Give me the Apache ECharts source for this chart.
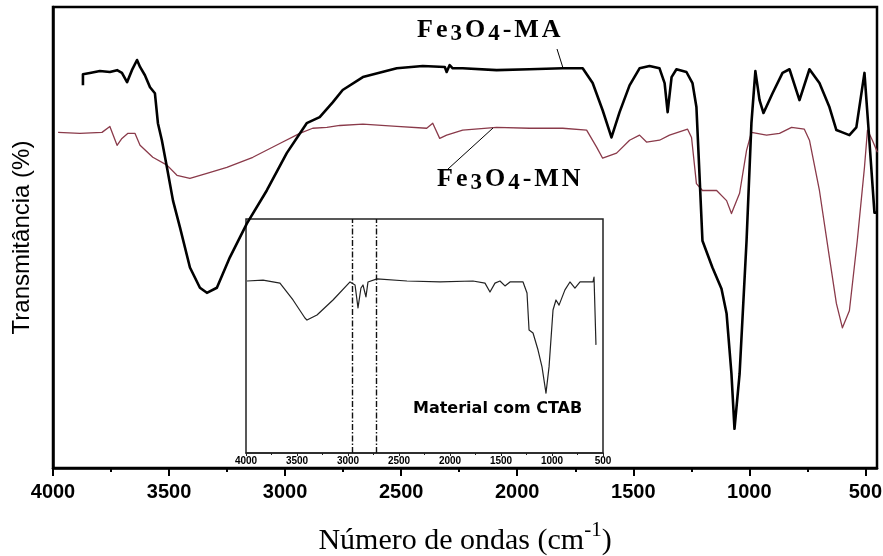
<!DOCTYPE html>
<html>
<head>
<meta charset="utf-8">
<script src="https://cdn.jsdelivr.net/npm/echarts@6/dist/echarts.min.js"></script>
<style>html,body{margin:0;padding:0;background:#fff}#c{width:883px;height:556px}</style>
</head>
<body>
<div id="c"></div>
<script>
// Main x-axis ticks (cm^-1)
const majorTicks = [4000, 3500, 3000, 2500, 2000, 1500, 1000, 500];
const minorTicks = [3750, 3250, 2750, 2250, 1750, 1250, 750];

// Fe3O4-MA (black, thick)
const maWn = [3871,3871,3841,3798,3755,3724,3703,3681,3660,3638,3625,3604,3582,3561,3548,3531,3509,3483,3453,3410,3367,3337,3294,3238,3165,3079,2993,2907,2851,2795,2752,2665,2519,2407,2312,2304,2291,2278,2235,2089,1947,1804,1718,1675,1632,1594,1559,1516,1473,1430,1387,1365,1352,1335,1314,1271,1245,1228,1215,1202,1159,1120,1098,1077,1064,1042,1012,991,974,956,939,900,857,827,784,741,698,655,625,599,569,539,504,483,461,448];
const maT  = [83.0,85.4,85.7,86.1,85.9,86.3,85.7,83.7,86.3,88.5,87.0,85.2,82.6,81.3,74.8,71.1,65.2,58.0,52.2,43.5,39.1,38.0,39.1,45.7,53.0,60.2,68.3,74.8,76.1,79.3,82.0,84.8,86.7,87.2,87.0,85.9,87.4,86.7,86.7,86.3,86.5,86.7,86.7,83.5,77.6,71.7,77.2,83.0,86.7,87.2,86.7,83.5,77.2,84.8,86.5,85.9,83.5,78.3,63.9,49.3,43.5,38.9,33.5,20.4,8.5,20.4,49.3,74.8,86.1,79.8,77.0,81.3,85.7,86.5,79.8,86.5,83.5,78.3,73.3,72.8,72.2,73.9,85.7,71.1,55.4,55.4];

// Fe3O4-MN (maroon, thin)
const mnWn = [3978,3884,3789,3755,3724,3703,3677,3647,3625,3570,3509,3466,3410,3337,3251,3139,3023,2937,2881,2820,2764,2665,2519,2390,2364,2334,2304,2235,2089,1947,1804,1701,1658,1632,1572,1516,1473,1443,1387,1344,1266,1249,1228,1202,1141,1098,1077,1042,1012,991,926,870,818,763,741,698,655,625,599,569,535,504,491,470,448];
const mnT  = [72.8,72.6,72.8,74.1,70.0,71.5,72.6,72.6,70.0,67.4,65.7,63.5,62.8,63.9,65.2,67.4,70.4,72.6,73.7,73.9,74.3,74.6,74.1,73.7,74.8,71.5,72.2,73.3,73.9,73.7,73.7,73.3,69.6,67.2,68.3,71.1,72.2,70.7,71.1,72.2,73.5,71.7,61.7,60.2,60.2,58.0,55.2,59.6,68.9,72.8,72.2,72.6,73.9,73.5,71.1,60.2,45.7,35.7,30.4,34.1,49.3,65.2,73.3,71.1,68.5];

// Inset: Material com CTAB
const inWn = [3990,3833,3667,3539,3422,3402,3304,3147,2980,2931,2902,2873,2853,2824,2804,2716,2422,2098,1775,1657,1608,1559,1510,1461,1412,1284,1245,1225,1186,1137,1098,1059,1029,990,961,931,873,824,775,725,598,588,569];
const inT  = [73.5,73.9,72.6,65.4,57.7,56.8,59.0,65.4,73.1,71.8,62.0,70.5,71.8,66.7,73.1,74.4,73.5,73.1,73.5,72.6,68.8,72.6,73.5,71.4,73.1,73.1,68.4,52.6,51.3,44.0,36.8,25.6,36.8,61.1,65.4,63.2,69.7,73.1,70.5,73.1,73.1,75.2,46.2];
const inLines = [2963, 2719];

const zip = (a, b) => a.map((v, i) => [v, b[i]]);
const plain = v => String(v);

const chart = echarts.init(document.getElementById('c'), null, {renderer: 'canvas'});

const serifBold = {fontFamily: 'Liberation Serif', fontWeight: 'bold', fontSize: 26, color: '#000'};
const chemRich = {
  m: Object.assign({}, serifBold, {padding: [0, 1.5, 0, 1.5]}),
  s: Object.assign({}, serifBold, {fontSize: 23, padding: [9, 1.5, 0, 1.5]})
};
const chem = (tail) => '{m|F}{m|e}{s|3}{m|O}{s|4}{m|-}' + tail.split('').map(c => '{m|' + c + '}').join('');

const option = {
  animation: false,
  backgroundColor: '#fff',
  grid: [
    {left: 53, right: 6, top: 7, bottom: 88, show: true, borderColor: '#000', borderWidth: 2.5, outerBoundsMode: 'none', containLabel: false},
    {left: 246, top: 219, width: 357, height: 234, show: true, borderColor: '#222', borderWidth: 1.5, outerBoundsMode: 'none', containLabel: false}
  ],
  xAxis: [
    {
      gridIndex: 0, type: 'value', inverse: true, min: 450, max: 4000,
      axisLine: {show: true, lineStyle: {color: '#000', width: 2.5}},
      axisTick: {show: true, customValues: majorTicks, length: 8, lineStyle: {color: '#000', width: 2}},
      axisLabel: {customValues: majorTicks, formatter: plain, fontSize: 20, fontWeight: 'bold', fontFamily: 'Liberation Sans', color: '#000', margin: 14},
      splitLine: {show: false},
      name: 'Número de ondas (cm{sup|-1})',
      nameLocation: 'middle', nameGap: 52,
      nameTextStyle: {
        fontFamily: 'Liberation Serif', fontSize: 30, color: '#000',
        rich: {sup: {fontFamily: 'Liberation Serif', fontSize: 21, color: '#000', padding: [0, 0, 22, 0]}}
      }
    },
    {
      gridIndex: 0, type: 'value', inverse: true, min: 450, max: 4000, position: 'bottom',
      axisLine: {show: false},
      axisTick: {show: true, customValues: minorTicks, length: 4, lineStyle: {color: '#000', width: 2}},
      axisLabel: {show: false},
      splitLine: {show: false}
    },
    {
      gridIndex: 1, type: 'value', inverse: true, min: 500, max: 4000, interval: 500,
      axisLine: {show: true, lineStyle: {color: '#222', width: 1.5}},
      axisTick: {show: true, length: 3, inside: false, lineStyle: {color: '#222', width: 1}},
      minorTick: {show: true, splitNumber: 2, length: 2, lineStyle: {color: '#222'}},
      axisLabel: {formatter: plain, fontSize: 10, fontWeight: 'bold', fontFamily: 'Liberation Sans', color: '#000', margin: 3},
      splitLine: {show: false}, minorSplitLine: {show: false}
    }
  ],
  yAxis: [
    {
      gridIndex: 0, type: 'value', min: 0, max: 100,
      axisLine: {show: true, lineStyle: {color: '#000', width: 2.5}},
      axisTick: {show: false}, axisLabel: {show: false}, splitLine: {show: false},
      name: 'Transmitância (%)', nameLocation: 'middle', nameGap: 19,
      nameTextStyle: {fontFamily: 'Liberation Sans', fontSize: 24, color: '#000'}
    },
    {
      gridIndex: 1, type: 'value', min: 0, max: 100,
      axisLine: {show: false}, axisTick: {show: false}, axisLabel: {show: false}, splitLine: {show: false}
    }
  ],
  series: [
    {
      name: 'Fe3O4-MA', type: 'line', xAxisIndex: 0, yAxisIndex: 0,
      data: zip(maWn, maT), showSymbol: false, symbol: 'none',
      lineStyle: {color: '#000', width: 2.6, join: 'round'}, z: 3
    },
    {
      name: 'Fe3O4-MN', type: 'line', xAxisIndex: 0, yAxisIndex: 0,
      data: zip(mnWn, mnT), showSymbol: false, symbol: 'none',
      lineStyle: {color: '#8a3a4a', width: 1.3, join: 'round'}, z: 2
    },
    {
      name: 'Material com CTAB', type: 'line', xAxisIndex: 2, yAxisIndex: 1,
      data: zip(inWn, inT), showSymbol: false, symbol: 'none',
      lineStyle: {color: '#222', width: 1.2, join: 'round'},
      markLine: {
        silent: true, symbol: 'none', label: {show: false},
        lineStyle: {color: '#111', width: 1.4, type: [6, 2, 1.5, 2]},
        data: inLines.map(v => ({xAxis: v}))
      }
    }
  ],
  graphic: [
    {type: 'text', left: 417, top: 17, z: 10,
     style: {text: chem('MA'), rich: chemRich}},
    {type: 'text', left: 437, top: 166, z: 10,
     style: {text: chem('MN'), rich: chemRich}},
    {type: 'line', z: 10, shape: {x1: 557, y1: 49, x2: 563, y2: 68}, style: {stroke: '#000', lineWidth: 1}},
    {type: 'line', z: 10, shape: {x1: 448, y1: 169, x2: 493, y2: 128}, style: {stroke: '#000', lineWidth: 1}},
    {type: 'text', left: 413, top: 401, z: 10,
     style: {text: 'Material com CTAB', fontFamily: 'DejaVu Sans', fontWeight: 'bold', fontSize: 16, fill: '#000'}}
  ]
};
chart.setOption(option);
</script>
</body>
</html>
